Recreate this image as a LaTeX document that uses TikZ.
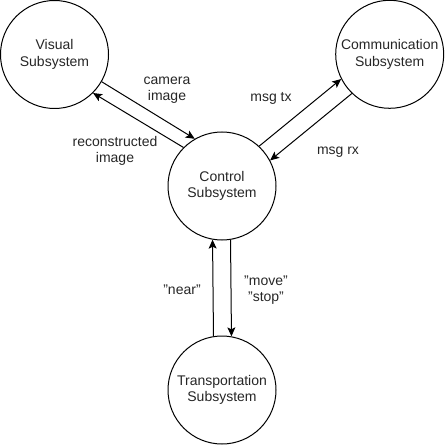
\documentclass[tikz,border=0pt]{standalone}
\usepackage{fontspec}
\setmainfont{Liberation Sans}
\usetikzlibrary{arrows.meta}
\begin{document}
\begin{tikzpicture}[x=1pt,y=-1pt,
  sub/.style={circle,draw,line width=1pt,inner sep=0pt,minimum size=108pt,align=center,
    font=\fontsize{14pt}{16.5pt}\selectfont,text=black!85},
  lbl/.style={align=center,font=\fontsize{14pt}{16.5pt}\selectfont,text=black!85},
  conn/.style={line width=1pt,-{Stealth[length=9pt,width=8pt,inset=2pt]}}]
\useasboundingbox (0,0) rectangle (446,446);
\node[sub] (vis) at (54.5,54.5) {Visual\\Subsystem};
\node[sub] (com) at (389.7,54.3) {Communication\\Subsystem};
\node[sub] (ctl) at (222,186) {Control\\Subsystem};
\node[sub] (tra) at (222,390) {Transportation\\Subsystem};
\draw[conn] (vis.-30) -- (ctl.120);
\draw[conn] (ctl.135) -- (vis.-45);
\draw[conn] (ctl.47) -- (com.-153);
\draw[conn] (com.-134) -- (ctl.28);
\draw[conn] (tra.99.9) -- (ctl.260.1);
\draw[conn] (ctl.279.6) -- (tra.80.4);
\node[lbl] (l1) at (167,90) {camera\\image};
\node[lbl] (l2) at (115,151) {reconstructed\\image};
\node[lbl] (l3) at (271,98) {msg tx};
\node[lbl] (l4) at (338,152) {msg rx};
\node[lbl] (l5) at (182,290) {\symbol{34}near\symbol{34}};
\node[lbl] (l6) at (266,290) {\symbol{34}move\symbol{34}\\\symbol{34}stop\symbol{34}};
\end{tikzpicture}
\end{document}
